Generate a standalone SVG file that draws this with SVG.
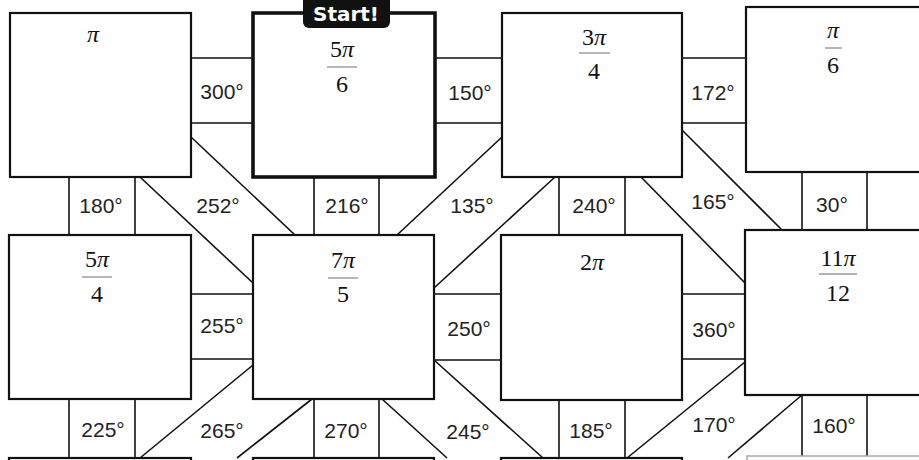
<svg xmlns="http://www.w3.org/2000/svg" width="919" height="460" viewBox="0 0 919 460">
<style>
.box{fill:#fff;stroke:#111;stroke-width:2.2}
.start{fill:#fff;stroke:#111;stroke-width:3.6}
.grey{fill:#fff;stroke:#aaa;stroke-width:1.5}
.c line{stroke:#111;stroke-width:1.6}
.lbl{font-family:"Liberation Sans",Arial,sans-serif;font-size:21px;fill:#222;text-anchor:middle}
.num{font-family:"Liberation Serif","Times New Roman",serif;font-size:24px;fill:#111;text-anchor:middle}
.pi{font-style:italic}
.bar{stroke:#999;stroke-width:1.4}
.tag{fill:#111}
.tagt{font-family:"DejaVu Sans",sans-serif;font-weight:bold;font-size:20px;fill:#fff;text-anchor:middle}
</style>
<rect width="919" height="460" fill="#fff"/>
<g id="connectors" class="c">
  <g id="c300"><line x1="191" y1="58" x2="253" y2="58"/><line x1="191" y1="123" x2="253" y2="123"/><text class="lbl" x="222" y="99">300°</text></g>
  <g id="c150"><line x1="435" y1="58" x2="502" y2="58"/><line x1="435" y1="123" x2="502" y2="123"/><text class="lbl" x="470" y="100">150°</text></g>
  <g id="c172"><line x1="682" y1="58" x2="746" y2="58"/><line x1="682" y1="123" x2="746" y2="123"/><text class="lbl" x="713" y="100">172°</text></g>
  <g id="c255"><line x1="191" y1="294" x2="253" y2="294"/><line x1="191" y1="359" x2="253" y2="359"/><text class="lbl" x="222" y="333">255°</text></g>
  <g id="c250"><line x1="434" y1="294" x2="501" y2="294"/><line x1="434" y1="360" x2="501" y2="360"/><text class="lbl" x="469" y="336">250°</text></g>
  <g id="c360"><line x1="682" y1="294" x2="745" y2="294"/><line x1="682" y1="359" x2="745" y2="359"/><text class="lbl" x="714" y="337">360°</text></g>
  <g id="c180"><line x1="69" y1="177" x2="69" y2="235"/><line x1="135" y1="177" x2="135" y2="235"/><text class="lbl" x="101" y="213">180°</text></g>
  <g id="c216"><line x1="314" y1="177" x2="314" y2="235"/><line x1="379" y1="177" x2="379" y2="235"/><text class="lbl" x="347" y="213">216°</text></g>
  <g id="c240"><line x1="559" y1="177" x2="559" y2="235"/><line x1="625" y1="177" x2="625" y2="235"/><text class="lbl" x="594" y="213">240°</text></g>
  <g id="c30"><line x1="802" y1="172" x2="802" y2="230"/><line x1="867" y1="172" x2="867" y2="230"/><text class="lbl" x="832" y="212">30°</text></g>
  <g id="c225"><line x1="69" y1="399" x2="69" y2="458"/><line x1="135" y1="399" x2="135" y2="458"/><text class="lbl" x="103" y="437">225°</text></g>
  <g id="c270"><line x1="314" y1="399" x2="314" y2="458"/><line x1="379" y1="399" x2="379" y2="458"/><text class="lbl" x="346" y="438">270°</text></g>
  <g id="c185"><line x1="559" y1="400" x2="559" y2="458"/><line x1="625" y1="400" x2="625" y2="458"/><text class="lbl" x="591" y="438">185°</text></g>
  <g id="c160"><line x1="802" y1="395" x2="802" y2="456"/><line x1="867" y1="395" x2="867" y2="456"/><text class="lbl" x="834" y="433">160°</text></g>
  <g id="c252"><line x1="191" y1="137" x2="295" y2="235"/><line x1="140" y1="177" x2="253" y2="283"/><text class="lbl" x="218" y="213">252°</text></g>
  <g id="c135"><line x1="502" y1="137" x2="397" y2="235"/><line x1="555" y1="177" x2="434" y2="288"/><text class="lbl" x="472" y="213">135°</text></g>
  <g id="c165"><line x1="682" y1="130" x2="782" y2="230"/><line x1="641" y1="177" x2="745" y2="283"/><text class="lbl" x="713" y="209">165°</text></g>
  <g id="c265"><line x1="253" y1="365" x2="140" y2="458"/><line x1="312" y1="399" x2="237" y2="458"/><text class="lbl" x="222" y="438">265°</text></g>
  <g id="c245"><line x1="434" y1="360" x2="543" y2="458"/><line x1="382" y1="399" x2="447" y2="458"/><text class="lbl" x="468" y="439">245°</text></g>
  <g id="c170"><line x1="745" y1="362" x2="627" y2="458"/><line x1="802" y1="395" x2="728" y2="458"/><text class="lbl" x="714" y="432">170°</text></g>
</g>
<g id="n-pi"><rect class="box" x="10" y="13" width="181" height="164"/><text class="num pi" x="93" y="42">π</text></g>
<g id="n-5pi6"><rect class="start" x="253" y="13" width="182" height="164"/>
  <text class="num" x="342" y="57">5<tspan class="pi">π</tspan></text><line class="bar" x1="327" y1="67" x2="357" y2="67"/><text class="num" x="342" y="92">6</text>
  <rect class="tag" x="303" y="-6" width="87" height="34" rx="6"/><text class="tagt" x="346" y="21">Start!</text></g>
<g id="n-3pi4"><rect class="box" x="502" y="13" width="180" height="164"/>
  <text class="num" x="594" y="45">3<tspan class="pi">π</tspan></text><line class="bar" x1="579" y1="53" x2="610" y2="53"/><text class="num" x="594" y="79">4</text></g>
<g id="n-pi6"><rect class="box" x="746" y="7" width="190" height="165"/>
  <text class="num pi" x="833" y="38">π</text><line class="bar" x1="825" y1="48" x2="842" y2="48"/><text class="num" x="833" y="73">6</text></g>
<g id="n-5pi4"><rect class="box" x="9" y="235" width="182" height="164"/>
  <text class="num" x="97" y="267">5<tspan class="pi">π</tspan></text><line class="bar" x1="82" y1="277" x2="112" y2="277"/><text class="num" x="97" y="302">4</text></g>
<g id="n-7pi5"><rect class="box" x="253" y="235" width="181" height="164"/>
  <text class="num" x="343" y="268">7<tspan class="pi">π</tspan></text><line class="bar" x1="328" y1="278" x2="358" y2="278"/><text class="num" x="343" y="302">5</text></g>
<g id="n-2pi"><rect class="box" x="501" y="235" width="181" height="165"/>
  <text class="num" x="592" y="270">2<tspan class="pi">π</tspan></text></g>
<g id="n-11pi12"><rect class="box" x="745" y="230" width="190" height="165"/>
  <text class="num" x="838" y="266">11<tspan class="pi">π</tspan></text><line class="bar" x1="819" y1="274" x2="857" y2="274"/><text class="num" x="838" y="301">12</text></g>
<g id="n-r3c1"><rect class="box" x="9" y="458" width="182" height="40"/></g>
<g id="n-r3c2"><rect class="box" x="253" y="458" width="181" height="40"/></g>
<g id="n-r3c3"><rect class="box" x="501" y="458" width="181" height="40"/></g>
<g id="n-r3c4"><rect class="grey" x="747" y="456" width="190" height="40"/></g>
</svg>
